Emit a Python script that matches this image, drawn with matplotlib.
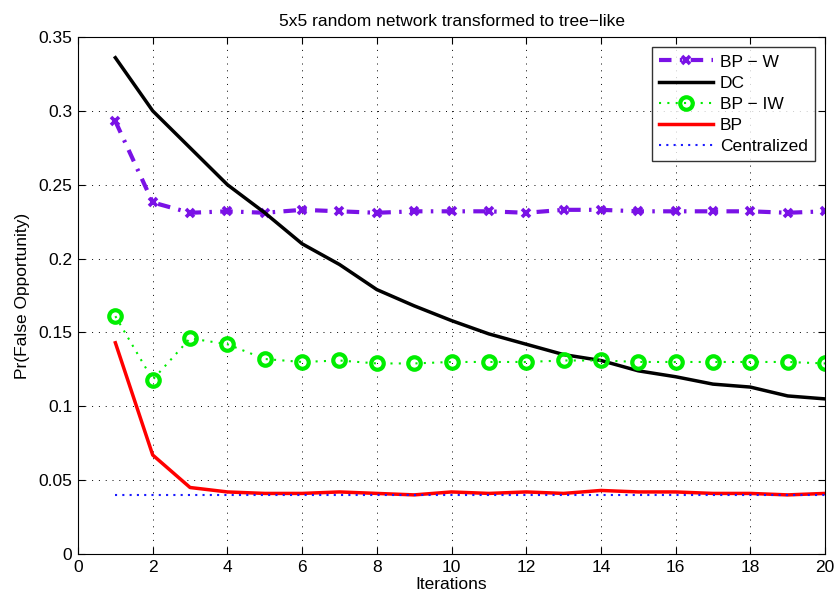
import matplotlib
matplotlib.use("Agg")
import matplotlib.pyplot as plt
import numpy as np

iterations = list(range(1, 21))

bp_w = [0.293, 0.238, 0.231, 0.232, 0.231, 0.233, 0.232, 0.231, 0.232, 0.232,
        0.232, 0.231, 0.233, 0.233, 0.232, 0.232, 0.232, 0.232, 0.231, 0.232]
dc = [0.336, 0.300, 0.275, 0.250, 0.231, 0.210, 0.196, 0.179, 0.168, 0.158,
      0.149, 0.142, 0.135, 0.131, 0.124, 0.120, 0.115, 0.113, 0.107, 0.105]
bp_iw = [0.161, 0.118, 0.146, 0.142, 0.132, 0.130, 0.131, 0.129, 0.129, 0.130,
         0.130, 0.130, 0.131, 0.131, 0.130, 0.130, 0.130, 0.130, 0.130, 0.129]
bp = [0.143, 0.067, 0.045, 0.042, 0.041, 0.041, 0.042, 0.041, 0.040, 0.042,
      0.041, 0.042, 0.041, 0.043, 0.042, 0.042, 0.041, 0.041, 0.040, 0.041]
centralized = [0.040] * 20

series_labels = ["BP \u2212 W", "DC", "BP \u2212 IW", "BP", "Centralized"]
title_text = "5x5 random network transformed to tree\u2212like"
x_label = "Iterations"
y_label = "Pr(False Opportunity)"
x_ticks = [0, 2, 4, 6, 8, 10, 12, 14, 16, 18, 20]
y_ticks = [0, 0.05, 0.1, 0.15, 0.2, 0.25, 0.3, 0.35]
y_tick_labels = ["0", "0.05", "0.1", "0.15", "0.2", "0.25", "0.3", "0.35"]

plt.rcParams["font.family"] = ["Liberation Sans", "DejaVu Sans"]
FS = 12.5

fig = plt.figure(figsize=(8.38, 6.03), dpi=100)
ax = fig.add_axes([0.0931, 0.0813, 0.8914, 0.8573])

ax.plot(iterations, bp_w, color="#7a12e6", linestyle=(0, (3, 2, 0.6, 2)), linewidth=3,
        marker="x", markersize=6, markeredgewidth=2.6, label=series_labels[0])
ax.plot(iterations, dc, color="black", linestyle="-", linewidth=2.5, label=series_labels[1])
ax.plot(iterations, bp_iw, color="#00ee00", linestyle=(0, (1, 3)), linewidth=1.5,
        marker="o", markersize=9, markerfacecolor="none", markeredgewidth=3,
        label=series_labels[2])
ax.plot(iterations, bp, color="#ff0000", linestyle="-", linewidth=2.5, label=series_labels[3])
ax.plot(iterations, centralized, color="#1a1aff", linestyle=(0, (1, 2.5)), linewidth=1.5,
        label=series_labels[4])

ax.set_xlim(0, 20)
ax.set_ylim(0, 0.35)
ax.set_xticks(x_ticks)
ax.set_yticks(y_ticks)
ax.set_yticklabels(y_tick_labels)
ax.tick_params(direction="in", top=True, right=True, labelsize=FS, length=5, pad=4)
ax.grid(True, linestyle=(0, (1, 6)), color="black", linewidth=0.7)

ax.set_title(title_text, fontsize=FS, pad=8)
ax.set_xlabel(x_label, fontsize=FS, labelpad=2)
ax.set_ylabel(y_label, fontsize=FS, labelpad=6)

leg = ax.legend(loc="upper right", fontsize=FS, frameon=True, fancybox=False,
                edgecolor="black", handlelength=3.1, borderaxespad=0.6,
                labelspacing=0.35, handletextpad=0.4, borderpad=0.4)
leg.get_frame().set_linewidth(1.0)

fig.savefig("out.png", dpi=100)
